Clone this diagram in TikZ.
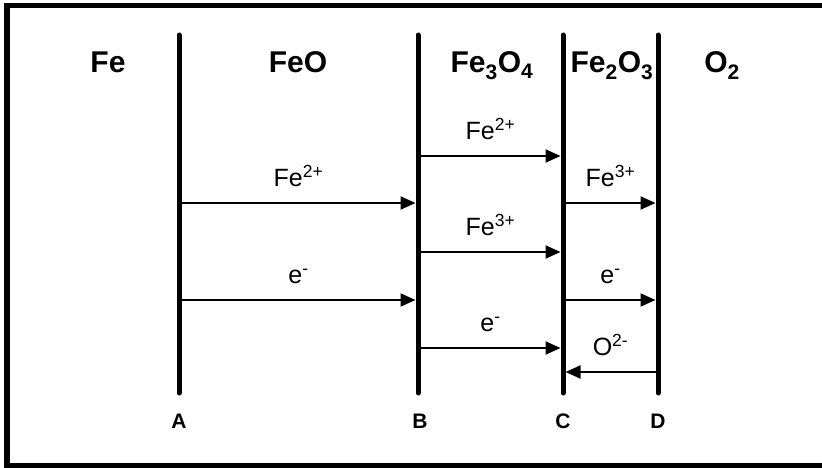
\documentclass[tikz,border=0pt]{standalone}
\usepackage{fontspec}
\setmainfont{Liberation Sans}
\usetikzlibrary{arrows.meta}

\begin{document}
\begin{tikzpicture}[x=1pt, y=-1pt,
    layer/.style={line width=5pt, line cap=round},
    flux/.style={-{Triangle[length=15pt, width=13pt]}, line width=2pt, shorten >=2.5pt},
    phase/.style={anchor=base, font=\fontsize{30}{36}\selectfont\bfseries},
    ion/.style={above=12pt, font=\fontsize{25}{30}\selectfont},
    tag/.style={anchor=base, font=\fontsize{21}{25}\selectfont\bfseries}]

    \useasboundingbox (0,0) rectangle (822,468);
    \clip (0,0) rectangle (822,468);
    \draw[line width=5.5pt] (7,5.5) rectangle (832,465.5);

    % interfaces
    \coordinate (Atop) at (179,35);  \coordinate (Abot) at (179,393);
    \coordinate (Btop) at (418,35);  \coordinate (Bbot) at (418,393);
    \coordinate (Ctop) at (563,35);  \coordinate (Cbot) at (563,393);
    \coordinate (Dtop) at (658,35);  \coordinate (Dbot) at (658,393);
    \draw[layer] (Atop) -- (Abot);
    \draw[layer] (Btop) -- (Bbot);
    \draw[layer] (Ctop) -- (Cbot);
    \draw[layer] (Dtop) -- (Dbot);

    \node[tag] (A) at (179,428) {A};
    \node[tag] (B) at (420,428) {B};
    \node[tag] (C) at (563,428) {C};
    \node[tag] (D) at (658,428) {D};

    % phases
    \node[phase] (fe)    at (108,73) {Fe};
    \node[phase] (feo)   at (298,73) {FeO};
    \node[phase] (fe3o4) at (492,73) {Fe\textsubscript{3}O\textsubscript{4}};
    \node[phase] (fe2o3) at (612,73) {Fe\textsubscript{2}O\textsubscript{3}};
    \node[phase] (o2)    at (722,73) {O\textsubscript{2}};

    % A -> B
    \coordinate (ab1) at (179,203);  \coordinate (ba1) at (418,203);
    \coordinate (ab2) at (179,300);  \coordinate (ba2) at (418,300);
    \draw[flux] (ab1) -- node[ion] {Fe\textsuperscript{2+}} (ba1);
    \draw[flux] (ab2) -- node[ion] {e\textsuperscript{-}} (ba2);

    % B -> C
    \coordinate (bc1) at (418,156);  \coordinate (cb1) at (563,156);
    \coordinate (bc2) at (418,252);  \coordinate (cb2) at (563,252);
    \coordinate (bc3) at (418,348);  \coordinate (cb3) at (563,348);
    \draw[flux] (bc1) -- node[ion] {Fe\textsuperscript{2+}} (cb1);
    \draw[flux] (bc2) -- node[ion] {Fe\textsuperscript{3+}} (cb2);
    \draw[flux] (bc3) -- node[ion] {e\textsuperscript{-}} (cb3);

    % C <-> D
    \coordinate (cd1) at (563,203);  \coordinate (dc1) at (658,203);
    \coordinate (cd2) at (563,300);  \coordinate (dc2) at (658,300);
    \coordinate (cd3) at (563,372);  \coordinate (dc3) at (658,372);
    \draw[flux] (cd1) -- node[ion] {Fe\textsuperscript{3+}} (dc1);
    \draw[flux] (cd2) -- node[ion] {e\textsuperscript{-}} (dc2);
    \draw[flux] (dc3) -- node[ion] {O\textsuperscript{2-}} (cd3);
\end{tikzpicture}
\end{document}
